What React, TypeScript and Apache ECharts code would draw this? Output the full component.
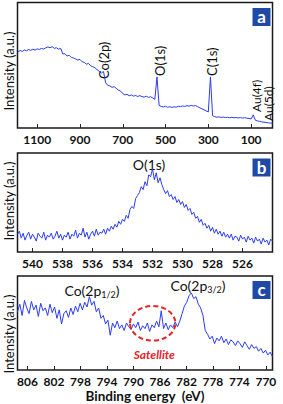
import React, { useEffect, useRef } from "react";
import * as echarts from "echarts";

// Panel a: survey spectrum [binding energy (eV), intensity]
const surveyPoints: [number, number][] = [
  [1190, 60.5], [1180, 61.8], [1170, 61.0], [1160, 62.2], [1150, 61.5], [1140, 62.5],
  [1130, 61.9], [1120, 62.8], [1110, 62.1], [1100, 63.0], [1090, 62.6], [1080, 63.4],
  [1070, 62.9], [1060, 63.8], [1050, 64.6], [1040, 63.9], [1030, 64.8], [1020, 63.5],
  [1010, 63.9], [1000, 62.8], [990, 63.5], [980, 59.0], [970, 59.2], [960, 57.4],
  [950, 57.9], [940, 56.2], [930, 55.8], [920, 55.0], [910, 54.2], [900, 54.6],
  [890, 52.8], [880, 52.3], [870, 50.9], [860, 51.4], [850, 49.6], [840, 48.8],
  [830, 48.0], [820, 46.5], [810, 45.2], [800, 43.8], [790, 45.0], [780, 36.0],
  [770, 34.0], [760, 33.5], [750, 32.4], [740, 32.9], [730, 31.5], [720, 30.2],
  [710, 29.4], [700, 27.5], [690, 26.4], [680, 26.8], [670, 25.7], [660, 26.3],
  [650, 25.4], [640, 25.9], [630, 25.1], [620, 25.8], [610, 25.0], [600, 24.6],
  [590, 25.3], [580, 24.4], [570, 24.9], [560, 24.0], [550, 22.8], [540, 40.7],
  [530, 18.0], [520, 17.2], [510, 16.8], [500, 17.3], [490, 16.5], [480, 17.0],
  [470, 16.4], [460, 16.9], [450, 16.6], [440, 17.3], [430, 17.0], [420, 17.6],
  [410, 17.2], [400, 17.8], [390, 17.4], [380, 18.0], [370, 17.5], [360, 17.9],
  [350, 17.0], [340, 16.2], [330, 15.3], [320, 14.5], [310, 13.6], [300, 12.8],
  [290, 40.7], [280, 9.8], [270, 9.0], [260, 8.6], [250, 8.9], [240, 8.4],
  [230, 8.7], [220, 8.3], [210, 8.6], [200, 8.2], [190, 8.5], [180, 8.1],
  [170, 8.4], [160, 8.0], [150, 8.3], [140, 7.9], [130, 8.2], [120, 7.8],
  [110, 7.6], [100, 7.2], [90, 10.5], [80, 6.2], [70, 5.6], [60, 5.3],
  [50, 4.9], [40, 4.6], [30, 4.4], [20, 4.1], [10, 3.9], [0, 3.7],
];

// Panel b: O(1s) high-resolution spectrum, sampled from 541 eV downward every 0.125 eV
const o1sStart = 541;
const o1sStep = 0.125;
const o1sIntensity = [
  18, 21, 14, 19, 12, 17, 20, 13, 18, 15, 11, 19, 16, 14, 20, 12, 17, 15, 19, 13,
  16, 21, 14, 18, 12, 17, 15, 20, 13, 18, 16, 22, 14, 19, 17, 24, 15, 20, 13, 18,
  21, 16, 23, 17, 20,
  19, 23, 18, 24, 21, 26, 23, 28, 25, 31, 28, 33,
  31, 37, 34, 43, 46, 44, 54, 57, 60, 66, 63, 71, 67, 78,
  76, 84, 73, 80, 70, 75,
  68, 63, 59, 62, 56, 58, 53, 56, 50, 53, 48, 51, 45, 48, 42, 44, 38, 40, 34, 36,
  30, 33, 27, 29, 24, 27, 21, 25, 19, 23, 18, 21, 16, 20, 15, 18,
  14, 18, 12, 16, 15, 11, 17, 13, 15, 10, 16, 12, 14, 9, 15, 11, 13, 8, 14, 10,
  12, 7, 13, 11,
];

// Panel c: Co(2p) high-resolution spectrum, sampled from 807.5 eV downward every 0.35 eV
const co2pStart = 807.5;
const co2pStep = 0.35;
const co2pIntensity = [
  62, 70, 58, 74, 66, 60, 73, 64, 69, 57, 71, 63, 66, 58, 70, 61, 67, 55, 64, 49, 60,
  63, 56, 66, 59, 68, 62, 71, 64, 72, 67, 78, 69,
  73, 62, 66, 55, 58, 49, 53, 37,
  50, 45, 52, 44, 48, 42, 50, 46, 43, 49, 45, 51, 42, 47, 44, 50, 41, 48, 45, 52,
  46, 63, 44, 50, 43, 48, 45, 51, 46, 52,
  60, 68, 72, 79, 82, 76, 78,
  70, 66, 58, 42, 38, 33, 36,
  28, 34, 31, 36, 29, 33, 27, 32, 30, 26, 31, 28, 24, 30, 26, 22, 27, 23, 25, 20,
  23, 18, 21, 16, 19, 14,
];

const surveyTicks = [1100, 900, 700, 500, 300, 100];
const o1sTicks = [540, 538, 536, 534, 532, 530, 528, 526];
const co2pTicks = [806, 802, 798, 794, 790, 786, 782, 778, 774, 770];

const LINE = "#2b3cf2";
const FONT = "Lato";

function sampled(start: number, step: number, values: number[]): [number, number][] {
  return values.map((v, i) => [+(start - i * step).toFixed(3), v]);
}

function xAxisFor(gridIndex: number, min: number, max: number, ticks: number[], extra: any = {}) {
  return {
    type: "value",
    gridIndex,
    inverse: true,
    min,
    max,
    axisLine: { show: false },
    splitLine: { show: false },
    axisTick: {
      show: true,
      inside: true,
      length: 4,
      customValues: ticks,
      lineStyle: { color: "#222", width: 1 },
    },
    axisLabel: {
      customValues: ticks,
      formatter: (v: number) => String(v),
      fontFamily: FONT,
      fontWeight: "bold",
      fontSize: 12,
      lineHeight: 12,
      color: "#111",
      margin: 5,
    },
    ...extra,
  };
}

function yAxisFor(gridIndex: number) {
  return {
    type: "value",
    gridIndex,
    min: 0,
    max: 100,
    axisLine: { show: false },
    axisTick: { show: false },
    axisLabel: { show: false },
    splitLine: { show: false },
  };
}

function badge(letter: string, x: number, y: number) {
  return [
    {
      type: "rect",
      shape: { x, y, width: 19, height: 19 },
      style: { fill: "#1e4aa6", stroke: "#ffffff", lineWidth: 1 },
      z: 10,
    },
    {
      type: "text",
      x: x + 9.5,
      y: y + 9,
      style: {
        text: letter,
        fill: "#ffffff",
        font: `bold 17px ${FONT}`,
        textAlign: "center",
        textVerticalAlign: "middle",
      },
      z: 11,
    },
  ];
}

function yName(y: number) {
  return {
    type: "text",
    x: 9,
    y,
    rotation: Math.PI / 2,
    style: {
      text: "Intensity (a.u.)",
      fill: "#111",
      font: `13px ${FONT}`,
      textAlign: "center",
      textVerticalAlign: "middle",
    },
  };
}

function vLabel(text: string, x: number, y: number, size = 13) {
  return {
    type: "text",
    x,
    y,
    rotation: Math.PI / 2,
    style: {
      text,
      fill: "#111",
      font: `${size}px ${FONT}`,
      textAlign: "left",
      textVerticalAlign: "middle",
    },
  };
}

function subLabel(main: string, sub: string, cx: number, cy: number) {
  return {
    type: "text",
    x: cx,
    y: cy,
    style: {
      text: `{m|${main}}{s|${sub}}{m|)}`,
      textAlign: "center",
      textVerticalAlign: "middle",
      rich: {
        m: { fontFamily: FONT, fontSize: 14, lineHeight: 18, fill: "#111", verticalAlign: "middle" },
        s: { fontFamily: FONT, fontSize: 9, lineHeight: 10, fill: "#111", verticalAlign: "bottom" },
      },
    },
  };
}

export default function App() {
  const ref = useRef<HTMLDivElement>(null);

  useEffect(() => {
    if (!ref.current) return;
    const chart = echarts.init(ref.current, undefined, { renderer: "svg" });
    const gridBase = {
      left: 17.5,
      width: 255,
      show: true,
      borderColor: "#1a1a1a",
      borderWidth: 1.5,
      containLabel: false,
    };
    chart.setOption({
      animation: false,
      backgroundColor: "#ffffff",
      grid: [
        { ...gridBase, top: 2.5, height: 125.5 },
        { ...gridBase, top: 153, height: 99 },
        { ...gridBase, top: 276, height: 97 },
      ],
      xAxis: [
        xAxisFor(0, 0, 1192, surveyTicks),
        xAxisFor(1, 524, 541, o1sTicks),
        xAxisFor(2, 769, 807.5, co2pTicks, {
          name: "Binding energy  (eV)",
          nameLocation: "middle",
          nameGap: 19,
          nameTextStyle: {
            fontFamily: FONT,
            fontWeight: "bold",
            fontSize: 13.5,
            lineHeight: 14,
            color: "#111",
            verticalAlign: "top",
          },
        }),
      ],
      yAxis: [yAxisFor(0), yAxisFor(1), yAxisFor(2)],
      series: [
        {
          type: "line",
          xAxisIndex: 0,
          yAxisIndex: 0,
          data: surveyPoints,
          showSymbol: false,
          symbol: "none",
          lineStyle: { color: LINE, width: 1 },
        },
        {
          type: "line",
          xAxisIndex: 1,
          yAxisIndex: 1,
          data: sampled(o1sStart, o1sStep, o1sIntensity),
          showSymbol: false,
          symbol: "none",
          lineStyle: { color: LINE, width: 1 },
        },
        {
          type: "line",
          xAxisIndex: 2,
          yAxisIndex: 2,
          data: sampled(co2pStart, co2pStep, co2pIntensity),
          showSymbol: false,
          symbol: "none",
          lineStyle: { color: LINE, width: 1 },
        },
      ],
      graphic: [
        yName(71),
        yName(201),
        yName(334),
        vLabel("Co(2p)", 104, 79),
        vLabel("O(1s)", 160, 76),
        vLabel("C(1s)", 211.5, 76),
        vLabel("Au(4f)", 256, 112, 12),
        vLabel("Au(5d)", 268, 121, 12),
        {
          type: "text",
          x: 149,
          y: 164,
          style: {
            text: "O(1s)",
            fill: "#111",
            font: `14px ${FONT}`,
            textAlign: "center",
            textVerticalAlign: "middle",
          },
        },
        subLabel("Co(2p", "1/2", 92, 290),
        subLabel("Co(2p", "3/2", 198, 285),
        {
          type: "ellipse",
          shape: { cx: 152.7, cy: 323.3, rx: 22.7, ry: 17.3 },
          style: { fill: "none", stroke: "#e5242a", lineWidth: 2, lineDash: [5, 3] },
          z: 5,
        },
        {
          type: "text",
          x: 154.3,
          y: 354.5,
          style: {
            text: "Satellite",
            fill: "#e5242a",
            font: `italic bold 12px ${FONT}`,
            textAlign: "center",
            textVerticalAlign: "middle",
          },
        },
        ...badge("a", 252, 7.5),
        ...badge("b", 252, 158),
        ...badge("c", 252, 280.5),
      ],
    });
    return () => chart.dispose();
  }, []);

  return (
    <div
      ref={ref}
      style={{ position: "absolute", left: 0, top: 0, width: 283, height: 404 }}
    />
  );
}
